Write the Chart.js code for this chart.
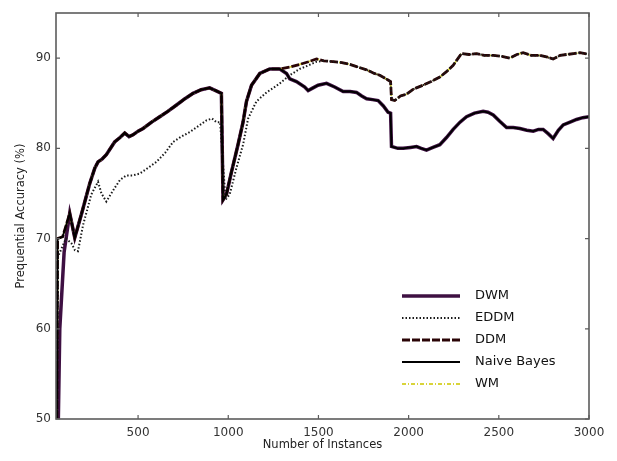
<!DOCTYPE html>
<html>
<head>
<meta charset="utf-8">
<script src="https://cdn.jsdelivr.net/npm/chart.js@4.4.1/dist/chart.umd.min.js"></script>
<style>
  body { margin: 0; background: #fff; }
  #acc { display: block; }
</style>
</head>
<body>
<canvas id="acc" width="617" height="461"></canvas>
<script>
// axis ticks
var xTicks = [500, 1000, 1500, 2000, 2500, 3000];
var yTicks = [50, 60, 70, 80, 90];

// shared rise of the ensembles before the second drift
var upperX = [121, 149, 186, 232, 260, 278, 300, 324, 350, 370, 400, 426, 450, 472, 500, 528, 575, 620, 665, 713, 760, 805, 850, 897, 930, 962,
              971, 990, 1018, 1054, 1082, 1101, 1129, 1175, 1230, 1286];
var upperY = [72.8, 70.1, 72.7, 76.1, 77.8, 78.5, 78.8, 79.3, 80.1, 80.7, 81.2, 81.7, 81.3, 81.5, 81.9, 82.2, 82.9, 83.5, 84.1, 84.8, 85.5, 86.1, 86.5, 86.7, 86.4, 86.1,
              74.3, 74.9, 77.4, 80.4, 82.9, 85.2, 87.0, 88.3, 88.8, 88.8];

// high branch after 1300 instances
var highX = [1340, 1396, 1445, 1489, 1530, 1581, 1630, 1674, 1720, 1767, 1810, 1840, 1875, 1900, 1905, 1923, 1955, 1988, 2030, 2080, 2125, 2173, 2210, 2247, 2275, 2293,
             2335, 2376, 2420, 2469, 2515, 2561, 2600, 2635, 2680, 2728, 2770, 2801, 2840, 2876, 2915, 2950, 3000];
var highY = [89.0, 89.3, 89.6, 89.9, 89.7, 89.6, 89.5, 89.3, 89.0, 88.7, 88.3, 88.1, 87.7, 87.4, 85.4, 85.3, 85.8, 86.0, 86.6, 87.0, 87.4, 87.9, 88.5, 89.2, 90.0, 90.5,
             90.4, 90.5, 90.3, 90.3, 90.2, 90.0, 90.4, 90.6, 90.3, 90.3, 90.1, 89.9, 90.3, 90.4, 90.5, 90.6, 90.4];

// low branch after 1300 instances
var lowX = [1323, 1341, 1378, 1424, 1443, 1470, 1498, 1545, 1590, 1637, 1675, 1711, 1740, 1767, 1800, 1831, 1860, 1886, 1900, 1905, 1940, 1970, 2010, 2044, 2070, 2099,
            2135, 2173, 2210, 2247, 2285, 2321, 2365, 2413, 2440, 2469, 2505, 2543, 2580, 2617, 2655, 2691, 2720, 2746, 2775, 2801, 2830, 2857, 2895, 2931, 2965, 3000];
var lowY = [88.3, 87.7, 87.4, 86.8, 86.4, 86.7, 87.0, 87.2, 86.8, 86.3, 86.3, 86.2, 85.8, 85.5, 85.4, 85.3, 84.7, 84.0, 83.9, 80.2, 80.0, 80.0, 80.1, 80.2, 80.0, 79.8,
            80.1, 80.4, 81.2, 82.1, 82.9, 83.5, 83.9, 84.1, 84.0, 83.7, 83.0, 82.3, 82.3, 82.2, 82.0, 81.9, 82.1, 82.1, 81.6, 81.1, 82.0, 82.6, 82.9, 83.2, 83.4, 83.5];

// EDDM until it joins the high branch
var eddmX = [50, 56, 100, 130, 150, 167, 195, 241, 278, 297, 324, 370, 400, 435, 470, 509, 560, 602, 650, 694, 740, 786, 830, 879, 910, 934, 955,
             985, 1008, 1045, 1082, 1110, 1156, 1212, 1250, 1286, 1341, 1396, 1445, 1489];
var eddmY = [50, 68.0, 70.0, 69.5, 68.7, 68.6, 71.5, 74.9, 76.3, 75.0, 74.1, 75.6, 76.5, 77.0, 77.0, 77.2, 77.9, 78.5, 79.5, 80.7, 81.3, 81.8, 82.4, 83.1, 83.3, 82.9, 82.9,
             74.3, 74.9, 77.8, 80.4, 83.3, 85.2, 86.2, 86.7, 87.2, 88.1, 88.8, 89.2, 89.6];

// first instances
var startNbX = [50, 54, 82];
var startNbY = [50, 70.0, 70.2];
var startDwmX = [58, 66, 90];
var startDwmY = [50, 60.0, 68.5];

function pts(xs, ys) {
  var out = [];
  for (var i = 0; i < xs.length; i++) out.push({x: xs[i], y: ys[i]});
  return out;
}

var nbData = pts(startNbX.concat(upperX, lowX), startNbY.concat(upperY, lowY));
var dwmData = pts(startDwmX.concat(upperX, lowX), startDwmY.concat(upperY, lowY));
var highData = pts(startNbX.concat(upperX, highX), startNbY.concat(upperY, highY));
var eddmData = pts(eddmX.concat(highX.slice(4)), eddmY.concat(highY.slice(4)));

var datasets = [
  {label: 'DWM', data: dwmData, borderColor: '#3e1042', borderWidth: 3.5, order: 4},
  {label: 'EDDM', data: eddmData, borderColor: '#1a1a1a', borderWidth: 2, borderDash: [1.5, 2], order: 1},
  {label: 'DDM', data: highData, borderColor: '#2a0406', borderWidth: 2.8, borderDash: [8, 2], order: 2},
  {label: 'Naive Bayes', data: nbData, borderColor: '#000000', borderWidth: 1.8, order: 0},
  {label: 'WM', data: highData, borderColor: '#d9d43a', borderWidth: 1.8, borderDash: [4, 2, 1, 2], order: 3}
];
datasets.forEach(function (d) {
  d.pointRadius = 0;
  d.fill = false;
  d.tension = 0;
  d.backgroundColor = d.borderColor;
});

// frame with inward ticks on all four sides, plus the legend inside the plot
var framePlugin = {
  id: 'frame',
  afterDraw: function (chart) {
    var c = chart.ctx, a = chart.chartArea;
    var xs = chart.scales.x, ys = chart.scales.y;
    c.save();
    c.strokeStyle = '#5c5c5c';
    c.lineWidth = 1.6;
    c.strokeRect(a.left, a.top, a.right - a.left, a.bottom - a.top);
    c.lineWidth = 1.2;
    c.beginPath();
    xTicks.forEach(function (v) {
      var px = xs.getPixelForValue(v);
      c.moveTo(px, a.bottom); c.lineTo(px, a.bottom - 4);
      c.moveTo(px, a.top); c.lineTo(px, a.top + 4);
    });
    yTicks.forEach(function (v) {
      var py = ys.getPixelForValue(v);
      c.moveTo(a.left, py); c.lineTo(a.left + 4, py);
      c.moveTo(a.right, py); c.lineTo(a.right - 4, py);
    });
    c.stroke();

    var x0 = a.right - 187, x1 = a.right - 129, tx = a.right - 114;
    c.font = '13px "DejaVu Sans", sans-serif';
    c.textBaseline = 'middle';
    c.fillStyle = '#111';
    datasets.forEach(function (d, i) {
      var y = a.top + 283 + i * 22;
      c.strokeStyle = d.borderColor;
      c.lineWidth = d.borderWidth;
      c.setLineDash(d.borderDash || []);
      c.beginPath();
      c.moveTo(x0, y); c.lineTo(x1, y);
      c.stroke();
      c.fillText(d.label, tx, y);
    });
    c.restore();
  }
};

var tickFont = {family: '"DejaVu Sans", sans-serif', size: 12};
var titleFont = {family: '"DejaVu Sans", sans-serif', size: 11.5};
var plain = function (v) { return String(v); };

new Chart(document.getElementById('acc').getContext('2d'), {
  type: 'line',
  data: {datasets: datasets},
  options: {
    responsive: false,
    animation: false,
    layout: {padding: {top: 13, right: 28, left: 0, bottom: 0}},
    plugins: {legend: {display: false}, tooltip: {enabled: false}},
    scales: {
      x: {
        type: 'linear', min: 45, max: 3000,
        grid: {display: false, drawTicks: false},
        border: {display: false},
        afterBuildTicks: function (s) { s.ticks = xTicks.map(function (v) { return {value: v}; }); },
        afterFit: function (s) { s.height = 42; },
        ticks: {color: '#333', font: tickFont, padding: 7, maxRotation: 0, callback: plain},
        title: {display: true, text: 'Number of Instances', color: '#222', font: titleFont, padding: {top: 2, bottom: 9}}
      },
      y: {
        type: 'linear', min: 50, max: 95,
        grid: {display: false, drawTicks: false},
        border: {display: false},
        afterBuildTicks: function (s) { s.ticks = yTicks.map(function (v) { return {value: v}; }); },
        afterFit: function (s) { s.width = 56; },
        ticks: {color: '#333', font: tickFont, padding: 5, callback: plain},
        title: {display: true, text: 'Prequential Accuracy (%)', color: '#222', font: titleFont, padding: {top: 14, bottom: 0}}
      }
    }
  },
  plugins: [framePlugin]
});
</script>
</body>
</html>
